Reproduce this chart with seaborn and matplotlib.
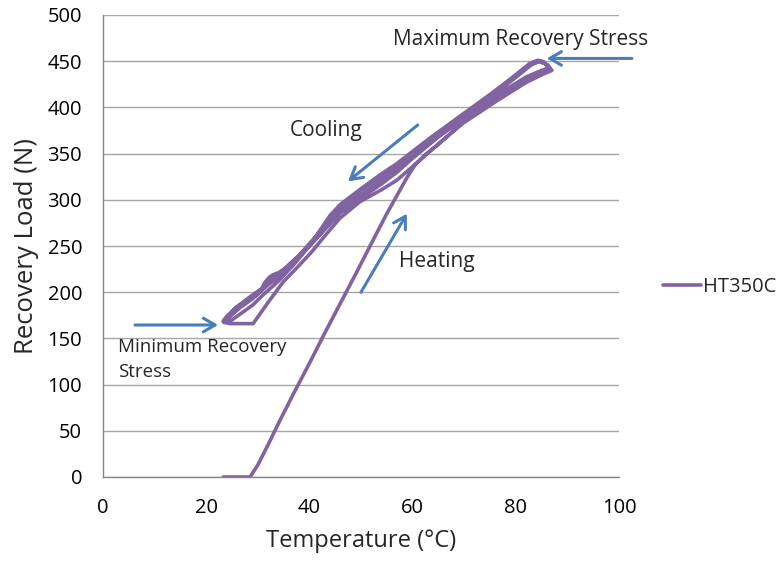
import numpy as np
import pandas as pd
import matplotlib
matplotlib.use("Agg")
import matplotlib.pyplot as plt
import seaborn as sns

# ---- data ----
heat1_T = [23.3, 25.0, 27.0, 28.5, 30.0, 32.0, 34.0, 37.0, 40.0, 43.0, 46.0, 49.0, 52.4, 55.0, 57.0, 58.9,
           60.5, 62.5, 65.0, 67.2, 70.0, 74.0, 78.0, 82.0, 85.0, 86.5]
heat1_L = [0, 0, 0, 0, 13, 35, 58, 91, 123, 156, 188, 220, 257, 285, 305, 324,
           338, 349, 360, 371, 385, 402, 419, 433, 440, 443]

cool1_T = [86.5, 85.5, 84.3, 82.8, 79.0, 75.0, 69.8, 63.4, 56.9, 53.7, 50.0, 46.0, 44.0, 40.1, 36.2, 34.0,
           33.0, 32.2, 31.3, 30.6, 29.5, 27.8, 25.9, 24.0, 23.3]
cool1_L = [443, 449, 451, 448, 431, 414, 393, 367, 339, 327, 312, 295, 283, 251, 229, 221,
           219, 216, 210, 201, 196, 191, 184, 174, 169]

heat2_T = [23.3, 24.5, 26.5, 29.1, 32.0, 34.9, 37.5, 40.5, 43.0, 45.9, 49.8, 53.7, 56.9, 60.0, 65.3, 69.8,
           76.3, 82.0, 85.3, 87.0, 86.2, 84.5]
heat2_L = [168, 166, 166, 166, 189, 211, 226, 244, 261, 280, 298, 310, 321, 336, 362, 383,
           407, 427, 436, 440, 446, 450]

cool2_T = [84.5, 83.0, 79.0, 75.0, 69.8, 63.4, 56.9, 53.7, 50.0, 46.0, 42.0, 38.0, 35.0, 32.0, 29.0, 26.5,
           24.5, 23.5]
cool2_L = [450, 446, 428, 410, 389, 362, 334, 320, 305, 289, 262, 238, 221, 208, 193, 183,
           173, 168]

heat3_T = [23.5, 25.0, 27.0, 29.0, 31.0, 34.0, 37.0, 40.0, 43.0, 46.0, 50.0, 53.7, 57.0, 60.0, 65.0, 70.0,
           76.0, 82.0, 85.0, 86.5, 85.8, 84.8]
heat3_L = [167, 170, 178, 186, 197, 212, 230, 250, 268, 286, 302, 316, 330, 345, 368, 388,
           411, 430, 439, 442, 447, 450]

cool3_T = [84.8, 83.0, 79.0, 75.0, 70.0, 64.0, 58.0, 54.0, 50.0, 46.0, 42.0, 38.0, 34.5, 31.0, 28.0, 25.5,
           23.8]
cool3_L = [450, 447, 430, 412, 391, 366, 342, 326, 310, 292, 265, 240, 222, 205, 193, 182,
           170]

series_name = "HT350C"
x_ticks = [0, 20, 40, 60, 80, 100]
y_ticks = [0, 50, 100, 150, 200, 250, 300, 350, 400, 450, 500]

segments_T = [heat1_T, cool1_T, heat2_T, cool2_T, heat3_T, cool3_T]
segments_L = [heat1_L, cool1_L, heat2_L, cool2_L, heat3_L, cool3_L]
T_all, L_all = [], []
for t, l in zip(segments_T, segments_L):
    T_all += t
    L_all += l
df = pd.DataFrame({"T": T_all, "L": L_all})

# ---- style ----
sns.set_theme(style="white")
plt.rcParams['font.family'] = ['Open Sans', 'DejaVu Sans']

purple = "#8064A2"
blue = "#4A7EBB"
grid_c = "#A6A6A6"

fig = plt.figure(figsize=(7.79, 5.62), dpi=100)
ax = fig.add_axes([103/779, 1-477/562, 516/779, 462/562])

sns.lineplot(data=df, x="T", y="L", sort=False, estimator=None, color=purple,
             lw=2.6, label=series_name, ax=ax)

ax.set_xlim(0, 100)
ax.set_ylim(0, 500)
ax.set_xticks(x_ticks)
ax.set_yticks(y_ticks)
ax.yaxis.grid(True, color=grid_c, lw=1)
ax.xaxis.grid(False)
ax.set_axisbelow(True)
for s in ["top", "right"]:
    ax.spines[s].set_visible(False)
for s in ["left", "bottom"]:
    ax.spines[s].set_color("#868686")
    ax.spines[s].set_linewidth(1)
ax.tick_params(axis="both", direction="out", length=6, width=1, color="#868686",
               labelsize=14.5, labelcolor="black")
ax.tick_params(axis="y", pad=9)
ax.tick_params(axis="x", pad=9)
ax.set_xlabel("Temperature (°C)", fontsize=17, labelpad=8)
ax.set_ylabel("Recovery Load (N)", fontsize=18.5, labelpad=6)

# legend
leg = ax.legend(loc="center left", bbox_to_anchor=(1.07, 0.411), frameon=False,
                fontsize=14.5, handlelength=1.9, handletextpad=0.1, borderaxespad=0)

# annotations
arr = dict(arrowstyle="->, head_length=0.6, head_width=0.35", color=blue, lw=2.2,
           mutation_scale=14, shrinkA=0, shrinkB=0)
ax.annotate("", xy=(86.0, 453), xytext=(102.5, 453), arrowprops=arr, annotation_clip=False)
ax.annotate("", xy=(47.5, 320), xytext=(61.0, 381), arrowprops=arr)
ax.annotate("", xy=(58.9, 285), xytext=(50.0, 200), arrowprops=arr)
ax.annotate("", xy=(22.3, 164.5), xytext=(6.2, 164.5), arrowprops=arr)

ax.text(56.2, 473, "Maximum Recovery Stress", fontsize=15, va="center", ha="left", clip_on=False)
ax.text(36.1, 375.5, "Cooling", fontsize=15, va="center", ha="left")
ax.text(57.4, 232.7, "Heating", fontsize=15, va="center", ha="left")
ax.text(2.9, 150, "Minimum Recovery\nStress", fontsize=13.5, va="top", ha="left", linespacing=1.45)

fig.savefig("out.png", dpi=100)
